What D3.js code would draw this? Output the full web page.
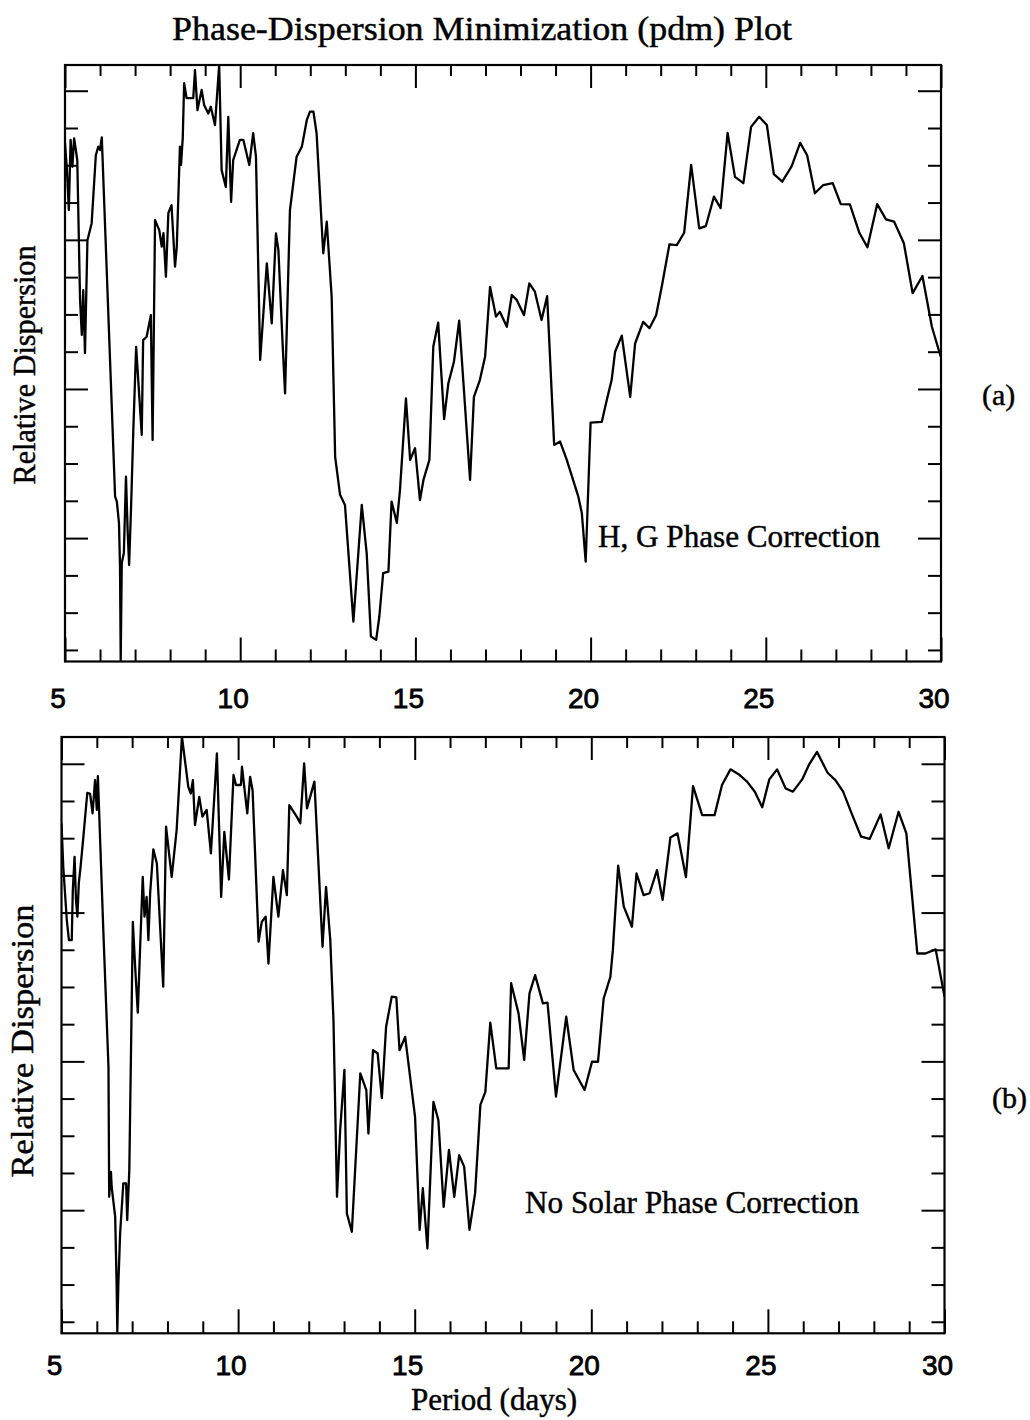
<!DOCTYPE html>
<html>
<head>
<meta charset="utf-8">
<script src="https://cdn.jsdelivr.net/npm/d3@7"></script>
<style>
  body { margin: 0; background: #fff; }
  svg { display: block; }
  text { stroke: #000; stroke-width: 0.45px; }
</style>
</head>
<body>
<svg id="grafico"></svg>
<script>
"use strict"

// painel (a): correcao de fase H, G
const periodA = [5.00,5.05,5.11,5.16,5.21,5.26,5.31,5.35,5.43,5.48,
  5.52,5.57,5.64,5.76,5.88,5.95,6.00,6.05,6.43,6.48,
  6.54,6.57,6.59,6.62,6.68,6.74,6.79,6.83,6.88,6.95,
  7.03,7.19,7.23,7.33,7.45,7.50,7.57,7.69,7.76,7.81,
  7.88,7.95,8.04,8.14,8.19,8.28,8.31,8.36,8.40,8.47,
  8.66,8.71,8.78,8.90,8.97,9.09,9.16,9.28,9.40,9.47,
  9.59,9.66,9.74,9.80,9.99,10.09,10.26,10.37,10.45,10.57,
  10.76,10.90,11.02,11.09,11.21,11.28,11.42,11.61,11.76,11.90,
  11.99,12.09,12.18,12.37,12.47,12.61,12.71,12.85,12.99,13.23,
  13.47,13.61,13.73,13.88,13.97,14.08,14.23,14.32,14.47,14.56,
  14.73,14.85,14.99,15.13,15.23,15.40,15.51,15.65,15.82,15.94,
  16.10,16.25,16.56,16.67,16.84,16.99,17.13,17.30,17.41,17.61,
  17.75,17.89,18.10,18.25,18.41,18.60,18.76,18.96,19.13,19.32,
  19.65,19.75,19.86,20.00,20.32,20.46,20.60,20.70,20.89,21.13,
  21.27,21.50,21.68,21.87,22.03,22.25,22.46,22.67,22.87,23.10,
  23.29,23.52,23.71,23.91,24.12,24.36,24.58,24.81,25.03,25.23,
  25.47,25.74,25.98,26.18,26.40,26.64,26.91,27.14,27.40,27.67,
  27.90,28.18,28.43,28.66,28.94,29.19,29.47,29.74,29.99];
const dispA = [13.59,12.96,11.80,13.68,12.96,13.72,13.41,13.14,9.39,8.45,
  9.65,7.96,10.99,11.44,13.27,13.50,13.41,13.75,4.11,3.98,
  3.41,2.23,-0.30,2.33,2.60,4.65,3.14,2.28,3.67,5.90,
  8.13,5.77,8.31,8.40,8.98,5.63,11.53,11.26,10.82,11.18,
  10.01,11.72,11.93,10.28,10.82,13.50,13.01,13.72,15.20,14.80,
  14.80,15.55,14.48,15.02,14.62,14.39,14.57,14.08,15.69,12.87,
  12.42,14.30,12.02,13.14,13.68,13.68,13.01,13.86,13.23,7.78,
  10.37,8.76,11.17,10.73,8.22,6.88,11.80,13.23,13.50,14.21,
  14.44,14.44,13.86,10.64,11.49,9.47,5.18,4.16,3.89,0.76,
  3.89,2.59,0.36,0.27,0.89,2.06,2.10,3.98,3.41,4.29,
  6.75,5.10,5.41,4.02,4.56,5.10,8.13,8.78,6.19,7.15,
  7.73,8.83,4.56,6.79,7.24,7.87,9.74,8.94,9.07,8.67,
  9.52,9.39,8.98,9.83,9.61,8.85,9.49,5.50,5.59,5.10,
  4.11,3.67,2.37,6.10,6.12,6.70,7.24,8.00,8.43,6.79,
  8.22,8.80,8.63,8.98,9.74,10.88,10.86,11.19,13.01,11.31,
  11.37,12.16,11.85,13.87,12.69,12.52,14.03,14.30,14.08,12.76,
  12.56,12.98,13.60,13.27,12.25,12.47,12.52,11.96,11.95,11.19,
  10.80,11.96,11.55,11.49,10.91,9.57,10.03,8.67,7.87];

// painel (b): sem correcao de fase solar
const periodB = [5.00,5.05,5.15,5.21,5.29,5.32,5.37,5.41,5.45,5.49,
  5.54,5.62,5.73,5.81,5.88,5.95,6.00,6.03,6.18,6.33,
  6.35,6.40,6.42,6.52,6.56,6.58,6.61,6.66,6.75,6.83,
  6.86,6.92,7.02,7.08,7.16,7.22,7.30,7.35,7.41,7.46,
  7.51,7.60,7.70,7.88,7.96,8.12,8.26,8.41,8.59,8.66,
  8.72,8.78,8.90,8.99,9.11,9.23,9.40,9.52,9.61,9.74,
  9.87,9.94,10.08,10.11,10.26,10.34,10.41,10.58,10.67,10.78,
  10.86,11.00,11.14,11.27,11.38,11.45,11.66,11.76,11.87,11.95,
  12.16,12.27,12.39,12.49,12.61,12.70,12.80,12.89,13.01,13.08,
  13.22,13.46,13.63,13.69,13.82,13.95,14.07,14.19,14.35,14.48,
  14.57,14.73,15.01,15.14,15.23,15.36,15.53,15.67,15.82,15.97,
  16.12,16.26,16.40,16.55,16.71,16.86,17.00,17.14,17.31,17.66,
  17.73,17.94,18.10,18.25,18.41,18.63,18.76,19.00,19.29,19.50,
  19.81,20.02,20.19,20.35,20.54,20.61,20.76,20.92,21.15,21.28,
  21.48,21.65,21.86,22.02,22.24,22.44,22.68,22.88,23.14,23.49,
  23.70,23.94,24.17,24.41,24.63,24.84,25.04,25.26,25.50,25.71,
  25.97,26.16,26.39,26.69,26.91,27.13,27.39,27.64,27.88,28.19,
  28.42,28.70,28.92,29.23,29.46,29.75,30.00];
const dispB = [13.40,12.23,10.80,10.26,10.26,11.60,12.50,11.34,10.89,11.79,
  12.23,13.04,14.22,14.19,13.67,14.56,13.76,14.67,10.62,6.85,
  3.36,4.03,3.63,2.82,1.03,-0.27,1.03,2.38,3.72,3.72,
  2.73,4.08,10.75,9.63,8.31,9.90,11.96,10.89,11.42,10.26,
  11.52,12.70,12.32,9.01,13.31,11.96,13.22,15.73,14.38,14.20,
  14.56,13.35,14.11,13.58,13.76,12.59,15.28,11.42,13.17,11.89,
  14.70,14.43,14.43,14.92,13.67,14.65,14.29,10.22,10.75,10.89,
  9.63,11.96,10.89,12.14,11.47,13.89,13.58,13.40,15.01,13.80,
  14.52,12.41,10.08,11.69,10.26,8.11,3.36,5.15,6.77,2.91,
  2.42,6.68,6.23,5.06,7.30,7.22,6.01,7.93,8.74,8.72,
  7.30,7.66,5.51,2.47,3.59,1.97,5.91,5.42,3.09,4.62,
  3.36,4.48,4.17,2.47,3.45,5.83,6.18,8.04,6.81,6.81,
  9.10,8.29,7.04,8.83,9.32,8.56,8.58,6.05,8.20,6.77,
  6.23,6.99,6.99,8.69,9.27,9.99,12.26,11.16,10.62,12.05,
  11.47,11.52,12.14,11.34,13.02,13.13,11.95,14.40,13.62,13.62,
  14.43,14.85,14.72,14.52,14.25,13.83,14.58,14.85,14.34,14.25,
  14.58,14.97,15.32,14.76,14.56,14.25,13.62,13.04,12.98,13.64,
  12.73,13.71,13.13,9.90,9.90,10.01,8.74];

const xMajor = [5, 10, 15, 20, 25, 30];
const xMinor = [6,7,8,9,11,12,13,14,16,17,18,19,21,22,23,24,26,27,28,29];
const yMajor = [3, 7, 11, 15];
const yMinor = [0,1,2,4,5,6,8,9,10,12,13,14];

function iniciar(){
  const largura = 1030;
  const altura = 1420;
  const serif = '"Liberation Serif", "Times New Roman", serif';
  const sans = '"Liberation Sans", Arial, sans-serif';

  const svg = d3.select('#grafico')
    .attr('width', largura).attr('height', altura)
    .style('background', '#fff');

  svg.append('text')
    .attr('x', 172).attr('y', 40)
    .attr('font-family', serif).attr('font-size', 34)
    .attr('textLength', 620).attr('lengthAdjust', 'spacingAndGlyphs')
    .text('Phase-Dispersion Minimization (pdm) Plot');

  const paineis = [
    { id: 'a', periodo: periodA, disp: dispA,
      esq: 65, dir: 941, sup: 65, inf: 661.5, topoY: 15.69,
      rotuloY: 708, nota: 'H, G Phase Correction', notaX: 598, notaY: 547, notaL: 282,
      letra: '(a)', letraX: 982, letraY: 405,
      eixoYx: 35, eixoYc: 365, eixoYl: 239 },
    { id: 'b', periodo: periodB, disp: dispB,
      esq: 61.5, dir: 944.5, sup: 737, inf: 1333.3, topoY: 15.72,
      rotuloY: 1375, nota: 'No Solar Phase Correction', notaX: 525, notaY: 1213, notaL: 334,
      letra: '(b)', letraX: 992, letraY: 1108,
      eixoYx: 33, eixoYc: 1041, eixoYl: 273 }
  ];

  paineis.forEach(p => {
    const x = d3.scaleLinear().domain([5, 30]).range([p.esq, p.dir]);
    const y = d3.scaleLinear().domain([-0.31, p.topoY]).range([p.inf, p.sup]);
    const g = svg.append('g');

    g.append('clipPath').attr('id', 'clip-' + p.id)
      .append('rect')
      .attr('x', p.esq).attr('y', p.sup)
      .attr('width', p.dir - p.esq).attr('height', p.inf - p.sup);

    const linha = d3.line().x(d => x(d[0])).y(d => y(d[1]));
    g.append('path')
      .datum(d3.zip(p.periodo, p.disp))
      .attr('clip-path', `url(#clip-${p.id})`)
      .attr('fill', 'none')
      .attr('stroke', '#000')
      .attr('stroke-width', 2.3)
      .attr('stroke-linejoin', 'round')
      .attr('d', linha);

    // ticks nos quatro lados, apontando para dentro
    const eixo = (gerador, valores, tamanho, tr) => {
      g.append('g')
        .attr('transform', tr)
        .call(gerador.tickValues(valores).tickSize(tamanho).tickFormat(''))
        .call(s => s.select('.domain').remove())
        .call(s => s.selectAll('line').attr('stroke', '#000').attr('stroke-width', 2));
    };
    eixo(d3.axisTop(x), xMinor, 12, `translate(0,${p.inf})`);
    eixo(d3.axisTop(x), xMajor, 24, `translate(0,${p.inf})`);
    eixo(d3.axisBottom(x), xMinor, 11, `translate(0,${p.sup})`);
    eixo(d3.axisBottom(x), xMajor, 23, `translate(0,${p.sup})`);
    eixo(d3.axisRight(y), yMinor, 13, `translate(${p.esq},0)`);
    eixo(d3.axisRight(y), yMajor, 23, `translate(${p.esq},0)`);
    eixo(d3.axisLeft(y), yMinor, 13, `translate(${p.dir},0)`);
    eixo(d3.axisLeft(y), yMajor, 23, `translate(${p.dir},0)`);

    g.append('rect')
      .attr('x', p.esq).attr('y', p.sup)
      .attr('width', p.dir - p.esq).attr('height', p.inf - p.sup)
      .attr('fill', 'none').attr('stroke', '#000').attr('stroke-width', 2.2);

    g.selectAll('.rotulo')
      .data(xMajor)
      .enter()
      .append('text')
      .classed('rotulo', true)
      .attr('x', d => x(d) - 7)
      .attr('y', p.rotuloY)
      .attr('text-anchor', 'middle')
      .attr('font-family', sans)
      .attr('font-size', 28)
      .style('stroke-width', '0.8px')
      .text(d => d);

    g.append('text')
      .attr('x', p.notaX).attr('y', p.notaY)
      .attr('font-family', serif).attr('font-size', 32)
      .attr('textLength', p.notaL).attr('lengthAdjust', 'spacingAndGlyphs')
      .text(p.nota);

    g.append('text')
      .attr('x', p.letraX).attr('y', p.letraY)
      .attr('font-family', serif).attr('font-size', 30)
      .text(p.letra);

    g.append('text')
      .attr('transform', `translate(${p.eixoYx},${p.eixoYc}) rotate(-90)`)
      .attr('text-anchor', 'middle')
      .attr('font-family', serif).attr('font-size', 32)
      .attr('textLength', p.eixoYl).attr('lengthAdjust', 'spacingAndGlyphs')
      .text('Relative Dispersion');
  });

  svg.append('text')
    .attr('x', 494).attr('y', 1410)
    .attr('text-anchor', 'middle')
    .attr('font-family', serif).attr('font-size', 31)
    .text('Period (days)');
}

window.addEventListener('load', iniciar, false);
</script>
</body>
</html>
